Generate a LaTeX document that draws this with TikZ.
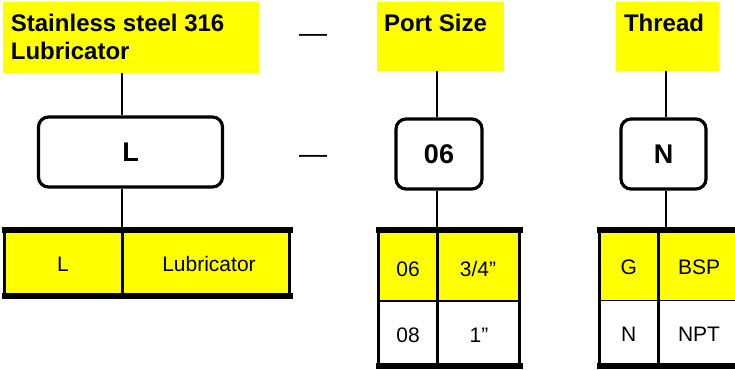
\documentclass[tikz,border=0pt]{standalone}
\usepackage{fontspec}
\setmainfont{Liberation Sans}
\definecolor{hy}{RGB}{255,255,0}
\tikzset{
 hdr/.style={fill=hy, draw=none, inner sep=0pt, outer sep=0pt, anchor=north west},
 htext/.style={anchor=base west, inner sep=0pt, font=\fontsize{24}{27.5}\selectfont\bfseries},
 codebox/.style={draw, rounded corners=10pt, line width=3.2pt, inner sep=0pt, font=\fontsize{27}{30}\selectfont\bfseries},
 link/.style={line width=1.3pt},
 tframe/.style={draw, line width=3.5pt, inner sep=0pt, outer sep=0pt},
 tedge/.style={line width=6pt, line cap=rect},
 ttext/.style={anchor=base, inner sep=0pt, font=\fontsize{21}{24}\selectfont},
 rowline/.style={line width=1.5pt},
 coldiv/.style={line width=3pt},
 dashtext/.style={anchor=base west, inner sep=0pt, font=\fontsize{28}{30}\selectfont}
}
\begin{document}
\begin{tikzpicture}[x=1pt,y=-1pt]
\clip (0,0) rectangle (735,369);
\fill[white] (0,0) rectangle (735,369);
% headers
\node[hdr, minimum width=256pt, minimum height=71pt] (h1) at (3,2) {};
\node[hdr, minimum width=127pt, minimum height=69pt] (h2) at (377,2) {};
\node[hdr, minimum width=103pt, minimum height=69pt] (h3) at (616,2) {};
\node[htext] (h1a) at (10.7,32) {Stainless steel 316};
\node[htext] (h1b) at (10.7,59.5) {Lubricator};
\node[htext] (h2a) at (384,32) {Port Size};
\node[htext] (h3a) at (623.8,32) {Thread};
% dashes
\node[dashtext] (d1) at (299,42) {—};
\node[dashtext] (d2) at (299,163) {—};
% code boxes
\node[codebox, minimum width=184pt, minimum height=70pt] (b1) at (130.5,152) {L};
\node[codebox, minimum width=86pt, minimum height=70pt] (b2) at (439,154) {06};
\node[codebox, minimum width=85pt, minimum height=70pt] (b3) at (663.5,154) {N};
% table 1
\node[tframe, fill=hy, minimum width=285pt, minimum height=66pt] (t1) at (147,263) {};
\draw[coldiv] (122,230) -- (122,296);
\draw[tedge] (t1.north west) -- (t1.north east);
\draw[tedge] (t1.south west) -- (t1.south east);
\node[ttext] (t1a) at (63,271) {L};
\node[ttext] (t1b) at (209,271) {Lubricator};
% table 2
\fill[hy] (378.5,230) rectangle (519.5,301);
\draw[rowline] (378.5,301) -- (519.5,301);
\draw[coldiv] (437,230) -- (437,366);
\node[tframe, minimum width=141pt, minimum height=136pt] (t2) at (449,298) {};
\draw[tedge] (t2.north west) -- (t2.north east);
\draw[tedge] (t2.south west) -- (t2.south east);
\node[ttext] (t2a) at (408,276) {06};
\node[ttext] (t2b) at (478,276) {3/4”};
\node[ttext] (t2c) at (408,342) {08};
\node[ttext] (t2d) at (479,342) {1”};
% table 3
\fill[hy] (599.5,230) rectangle (742,300.5);
\draw[rowline] (599.5,300.5) -- (742,300.5);
\draw[coldiv] (658,230) -- (658,366);
\node[tframe, minimum width=142.5pt, minimum height=136pt] (t3) at (670.75,298) {};
\draw[tedge] (t3.north west) -- (t3.north east);
\draw[tedge] (t3.south west) -- (t3.south east);
\node[ttext] (t3a) at (628.7,274) {G};
\node[ttext] (t3b) at (699,274) {BSP};
\node[ttext] (t3c) at (628.7,341) {N};
\node[ttext] (t3d) at (699,341) {NPT};
% connectors
\coordinate (c1) at (122,0);
\coordinate (c2) at (437,0);
\coordinate (c3) at (666,0);
\draw[link] (c1 |- h1.south) -- (c1 |- b1.north);
\draw[link] (c1 |- b1.south) -- (c1 |- t1.north);
\draw[link] (c2 |- h2.south) -- (c2 |- b2.north);
\draw[link] (c2 |- b2.south) -- (c2 |- t2.north);
\draw[link] (c3 |- h3.south) -- (c3 |- b3.north);
\draw[link] (c3 |- b3.south) -- (c3 |- t3.north);
\end{tikzpicture}
\end{document}
